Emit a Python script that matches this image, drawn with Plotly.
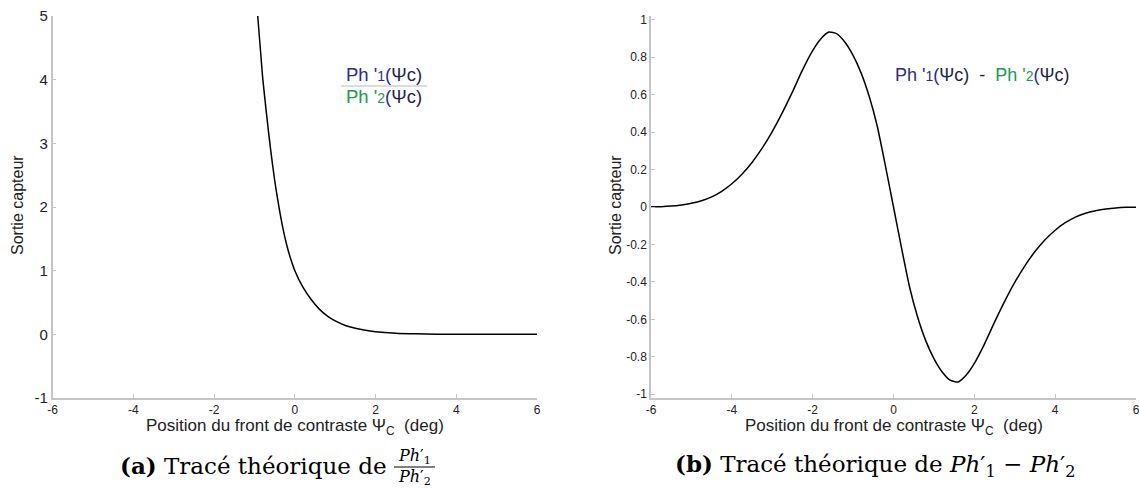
import plotly.graph_objects as go

# ---- data ----
xa = [-0.92, -0.8, -0.7, -0.6, -0.5, -0.4, -0.3, -0.2, -0.1, 0.0, 0.2, 0.4, 0.6, 0.8,
      1.0, 1.25, 1.5, 1.75, 2.0, 2.5, 3.0, 3.5, 4.0, 5.0, 6.0]
ya = [5.0, 4.05, 3.45, 2.9, 2.42, 2.02, 1.68, 1.4, 1.18, 1.0, 0.74, 0.55, 0.40, 0.29,
      0.21, 0.14, 0.095, 0.063, 0.042, 0.018, 0.008, 0.003, 0.001, 0.0, 0.0]

xb = [-6, -5.75, -5.5, -5.25, -5.0, -4.75, -4.5, -4.25, -4.0, -3.75, -3.5, -3.25, -3.0, -2.75,
      -2.5, -2.25, -2.0, -1.8, -1.6, -1.4, -1.2, -1.0, -0.8, -0.6, -0.4, -0.2, 0.0,
      0.2, 0.4, 0.6, 0.8, 1.0, 1.2, 1.4, 1.6, 1.8, 2.0, 2.25, 2.5, 2.75, 3.0, 3.25, 3.5,
      3.75, 4.0, 4.25, 4.5, 4.75, 5.0, 5.25, 5.5, 5.75, 6.0]
yb = [0.001, 0.002, 0.005, 0.011, 0.02, 0.033, 0.054, 0.084, 0.124, 0.175, 0.238, 0.314, 0.403,
      0.504, 0.615, 0.732, 0.835, 0.897, 0.934, 0.925, 0.88, 0.81, 0.715, 0.59, 0.43, 0.22, 0.0,
      -0.22, -0.43, -0.59, -0.715, -0.81, -0.88, -0.925, -0.934, -0.897, -0.835, -0.732, -0.615,
      -0.504, -0.403, -0.314, -0.238, -0.175, -0.124, -0.084, -0.054, -0.033, -0.02, -0.011, -0.005,
      -0.002, -0.001]

x_ticks = [-6, -4, -2, 0, 2, 4, 6]
ya_ticks = [-1, 0, 1, 2, 3, 4, 5]
yb_ticks = [-1, -0.8, -0.6, -0.4, -0.2, 0, 0.2, 0.4, 0.6, 0.8, 1]
yb_ticktext = ["-1", "-0.8", "-0.6", "-0.4", "-0.2", "0", "0.2", "0.4", "0.6", "0.8", "1"]

W, H = 1139, 488
AX_COL = "#c4c4c4"
TXT = "#222222"
BLUE = "#2d2a8f"
GREEN = "#1b9a4c"
DARK = "#23234a"
SANS = "Liberation Sans, Arial, sans-serif"
SERIF = "DejaVu Serif, serif"

fig = go.Figure()
fig.add_trace(go.Scatter(x=xa, y=ya, mode="lines", line=dict(color="black", width=1.5, shape="spline", smoothing=0.6),
                         xaxis="x", yaxis="y", showlegend=False, hoverinfo="skip"))
fig.add_trace(go.Scatter(x=xb, y=yb, mode="lines", line=dict(color="black", width=1.5, shape="spline", smoothing=0.5),
                         xaxis="x2", yaxis="y2", showlegend=False, hoverinfo="skip"))

ydom = [1 - 398 / H, 1 - 16 / H]
common_x = dict(range=[-6, 6], tickvals=x_ticks, ticktext=[str(v) for v in x_ticks],
                showline=True, linecolor=AX_COL, linewidth=1.5, ticks="inside", ticklen=4,
                tickcolor=AX_COL, showgrid=False, zeroline=False, automargin=False,
                ticklabeloverflow="allow",
                tickfont=dict(family=SANS, size=12, color=TXT))
common_y = dict(showline=True, linecolor=AX_COL, linewidth=1.5, ticks="inside", ticklen=4,
                tickcolor=AX_COL, showgrid=False, zeroline=False, automargin=False)

fig.update_layout(
    width=W, height=H, margin=dict(l=0, r=0, t=0, b=0),
    plot_bgcolor="white", paper_bgcolor="white",
    xaxis=dict(domain=[52.7 / W, 537 / W], anchor="y", **common_x),
    xaxis2=dict(domain=[651 / W, 1136 / W], anchor="y2", **common_x),
    yaxis=dict(domain=ydom, anchor="x", range=[-1, 5], tickvals=ya_ticks,
               ticktext=[str(v) for v in ya_ticks],
               tickfont=dict(family=SANS, size=15, color=TXT), **common_y),
    yaxis2=dict(domain=ydom, anchor="x2", range=[-1.02, 1.02], tickvals=yb_ticks,
                ticktext=yb_ticktext,
                tickfont=dict(family=SANS, size=12, color=TXT), **common_y),
)

def ph(idx, col):
    return (f"<span style='color:{col}'>Ph '</span>"
            f"<span style='color:{col};font-size:14px'>{idx}</span>"
            f"<span style='color:{BLUE}'>(</span><span style='color:{DARK}'>Ψc)</span>")

xtitle = "Position du front de contraste Ψ<sub>C</sub>  (deg)"
ann = []
# axis titles
ann.append(dict(x=295, y=H - 427, text=xtitle, font=dict(family=SANS, size=17, color=TXT),
                xanchor="center", yanchor="middle"))
ann.append(dict(x=894, y=H - 427, text=xtitle, font=dict(family=SANS, size=17, color=TXT),
                xanchor="center", yanchor="middle"))
ann.append(dict(x=17, y=H - 205, text="Sortie capteur", textangle=-90,
                font=dict(family=SANS, size=16, color=TXT), xanchor="center", yanchor="middle"))
ann.append(dict(x=615, y=H - 205, text="Sortie capteur", textangle=-90,
                font=dict(family=SANS, size=16, color=TXT), xanchor="center", yanchor="middle"))
# left in-plot fraction
ann.append(dict(x=384, y=H - 75, text=ph(1, BLUE), font=dict(family=SANS, size=18.5),
                xanchor="center", yanchor="middle"))
ann.append(dict(x=384, y=H - 97, text=ph(2, GREEN), font=dict(family=SANS, size=18.5),
                xanchor="center", yanchor="middle"))
# right in-plot text
ann.append(dict(x=982, y=H - 75,
                text=ph(1, BLUE) + f"<span style='color:{DARK}'>&nbsp; - &nbsp;</span>" + ph(2, GREEN),
                font=dict(family=SANS, size=18), xanchor="center", yanchor="middle"))
# captions
ann.append(dict(x=118, y=H - 465, text="<b>(a)</b> Tracé théorique de",
                font=dict(family=SERIF, size=23, color="black"), xanchor="left", yanchor="middle"))
ann.append(dict(x=414, y=H - 456, text="<i>Ph</i>′<sub>1</sub>",
                font=dict(family=SERIF, size=16, color="black"), xanchor="center", yanchor="middle"))
ann.append(dict(x=414, y=H - 477, text="<i>Ph</i>′<sub>2</sub>",
                font=dict(family=SERIF, size=16, color="black"), xanchor="center", yanchor="middle"))
ann.append(dict(x=875, y=H - 465,
                text="<b>(b)</b> Tracé théorique de <i>Ph</i>′<sub>1</sub> − <i>Ph</i>′<sub>2</sub>",
                font=dict(family=SERIF, size=23, color="black"),
                xanchor="center", yanchor="middle"))
for a in ann:
    a["x"] = a["x"] / W
    a["y"] = a["y"] / H
    a["xref"] = "paper"
    a["yref"] = "paper"
    a["showarrow"] = False
fig.update_layout(annotations=ann)

shapes = [
    dict(type="line", xref="paper", yref="paper", x0=341 / W, x1=427 / W, y0=(H - 86) / H, y1=(H - 86) / H,
         line=dict(color="#d0d0d0", width=1.5)),
    dict(type="line", xref="paper", yref="paper", x0=394 / W, x1=435 / W, y0=(H - 467) / H, y1=(H - 467) / H,
         line=dict(color="black", width=1)),
]
fig.update_layout(shapes=shapes)

fig.write_html("out.html", config={"displayModeBar": False},
               post_script="document.body.style.margin='0';document.body.style.padding='0';")
